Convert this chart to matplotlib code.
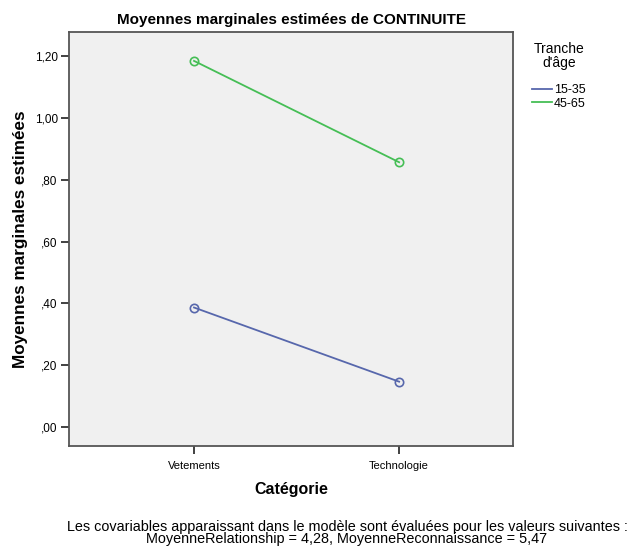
import matplotlib
matplotlib.use("Agg")
import matplotlib.pyplot as plt
from matplotlib.lines import Line2D

categories = ["Vetements", "Technologie"]
groups = ["15-35", "45-65"]
values_15_35 = [0.387, 0.147]
values_45_65 = [1.185, 0.857]
yticks = [0.0, 0.2, 0.4, 0.6, 0.8, 1.0, 1.2]
ytick_labels = [",00", ",20", ",40", ",60", ",80", "1,00", "1,20"]

colors = ["#5767AC", "#45BE55"]

plt.rcParams['font.family'] = ['Liberation Sans', 'DejaVu Sans']

fig = plt.figure(figsize=(6.32, 5.54), dpi=100)
ax = fig.add_axes([0.109, 0.195, 0.703, 0.747])
ax.set_facecolor("#F0F0F0")

xs = list(range(len(categories)))
for vals, col, g in zip([values_15_35, values_45_65], colors, groups):
    ax.plot(xs, vals, color=col, lw=1.3, marker="o", ms=6, mfc="none",
            mec=col, mew=1.2, label=g)

ax.set_xlim(-0.61, 1.556)
ax.set_ylim(-0.061, 1.278)
ax.set_xticks(xs)
ax.set_xticklabels(categories, fontsize=8)
ax.set_yticks(yticks)
ax.set_yticklabels(ytick_labels, fontsize=8.5)
ax.tick_params(axis="both", length=6, width=1.3, color="#333333")
ax.tick_params(axis="x", pad=5)
ax.tick_params(axis="y", pad=2)
for s in ax.spines.values():
    s.set_color("#555555")
    s.set_linewidth(1.3)

ax.set_xlabel("Catégorie", fontsize=11.5, fontweight="bold", labelpad=8)
ax.set_ylabel("Moyennes marginales estimées", fontsize=12.3, fontweight="bold", labelpad=5)
ax.set_title("Moyennes marginales estimées de CONTINUITE", fontsize=11, fontweight="bold", pad=6)

handles = [Line2D([0], [0], color=c, lw=1.3) for c in colors]
leg = fig.legend(handles, groups, title="Tranche\nd'âge", loc="upper left",
                 bbox_to_anchor=(0.828, 0.94), frameon=False, fontsize=9,
                 title_fontsize=10, handlelength=1.6, handletextpad=0.15,
                 labelspacing=0.15, borderpad=0.2)
leg.get_title().set_multialignment("center")
leg.get_title().set_linespacing(1.0)
leg._legend_box.sep = 10

fig.text(0.549, 0.038, "Les covariables apparaissant dans le modèle sont évaluées pour les valeurs suivantes :\nMoyenneRelationship = 4,28, MoyenneReconnaissance = 5,47",
         ha="center", va="center", fontsize=10.4, linespacing=0.8)

fig.savefig("out.png", dpi=100)
